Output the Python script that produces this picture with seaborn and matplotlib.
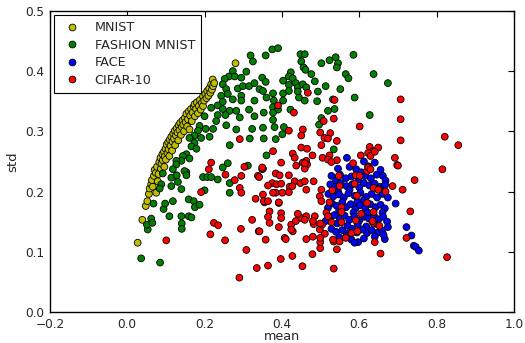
import numpy as np
import pandas as pd
import seaborn as sns
import matplotlib
matplotlib.use("Agg")
import matplotlib.pyplot as plt

# (mean, std) pairs
mnist = [
    (0.027, 0.115), (0.039, 0.153), (0.048, 0.176), (0.052, 0.184), (0.056, 0.196), (0.058, 0.205),
    (0.062, 0.212), (0.066, 0.208), (0.064, 0.219), (0.069, 0.226), (0.071, 0.236), (0.075, 0.198),
    (0.074, 0.231), (0.077, 0.241), (0.079, 0.217), (0.081, 0.229), (0.083, 0.249), (0.086, 0.256),
    (0.087, 0.238), (0.089, 0.246), (0.091, 0.262), (0.092, 0.252), (0.095, 0.266), (0.096, 0.241),
    (0.097, 0.258), (0.099, 0.271), (0.100, 0.253), (0.102, 0.278), (0.104, 0.264), (0.106, 0.282),
    (0.107, 0.270), (0.109, 0.259), (0.110, 0.286), (0.112, 0.276), (0.114, 0.291), (0.116, 0.268),
    (0.117, 0.283), (0.119, 0.296), (0.121, 0.288), (0.123, 0.301), (0.124, 0.277), (0.126, 0.293),
    (0.128, 0.305), (0.130, 0.298), (0.132, 0.285), (0.133, 0.310), (0.135, 0.302), (0.137, 0.314),
    (0.139, 0.294), (0.141, 0.307), (0.143, 0.318), (0.145, 0.311), (0.147, 0.300), (0.149, 0.322),
    (0.151, 0.315), (0.153, 0.329), (0.155, 0.308), (0.157, 0.320), (0.159, 0.333), (0.161, 0.303),
    (0.163, 0.326), (0.165, 0.337), (0.167, 0.317), (0.169, 0.331), (0.172, 0.341), (0.174, 0.345),
    (0.175, 0.325), (0.178, 0.337), (0.180, 0.348), (0.183, 0.330), (0.185, 0.342), (0.188, 0.352),
    (0.190, 0.336), (0.193, 0.347), (0.196, 0.358), (0.196, 0.342), (0.199, 0.351), (0.202, 0.362),
    (0.205, 0.355), (0.207, 0.367), (0.210, 0.359), (0.212, 0.371), (0.215, 0.364), (0.217, 0.378),
    (0.219, 0.369), (0.221, 0.386), (0.222, 0.375), (0.225, 0.380), (0.280, 0.413),
]

fashion = [
    (0.036, 0.089), (0.085, 0.082), (0.053, 0.137), (0.062, 0.155), (0.051, 0.145), (0.065, 0.148),
    (0.068, 0.180), (0.094, 0.171), (0.098, 0.180), (0.109, 0.159), (0.118, 0.184), (0.140, 0.159),
    (0.141, 0.147), (0.141, 0.138), (0.159, 0.159), (0.166, 0.157), (0.159, 0.187), (0.172, 0.184),
    (0.175, 0.174), (0.187, 0.178), (0.092, 0.230), (0.114, 0.223), (0.128, 0.227), (0.131, 0.216),
    (0.114, 0.209), (0.140, 0.204), (0.153, 0.232), (0.196, 0.224), (0.207, 0.224), (0.217, 0.224),
    (0.234, 0.220), (0.088, 0.212), (0.084, 0.205),
    (0.319, 0.426), (0.325, 0.416), (0.273, 0.400), (0.308, 0.399), (0.263, 0.391), (0.278, 0.391),
    (0.295, 0.389), (0.252, 0.387), (0.247, 0.378), (0.256, 0.370), (0.286, 0.371), (0.299, 0.375),
    (0.315, 0.375), (0.329, 0.380), (0.260, 0.362), (0.243, 0.359), (0.273, 0.353), (0.295, 0.359),
    (0.295, 0.351), (0.329, 0.351), (0.247, 0.349), (0.234, 0.343), (0.217, 0.339), (0.247, 0.337),
    (0.265, 0.334), (0.282, 0.334), (0.315, 0.336), (0.234, 0.327), (0.254, 0.327), (0.291, 0.323),
    (0.329, 0.325), (0.230, 0.317), (0.200, 0.325), (0.187, 0.309), (0.203, 0.304), (0.222, 0.304),
    (0.256, 0.310), (0.282, 0.303), (0.323, 0.304), (0.183, 0.301), (0.174, 0.293), (0.191, 0.289),
    (0.213, 0.291), (0.161, 0.289), (0.174, 0.281), (0.166, 0.275), (0.179, 0.271), (0.265, 0.277),
    (0.317, 0.288), (0.153, 0.262), (0.161, 0.255), (0.144, 0.259), (0.140, 0.251), (0.127, 0.251),
    (0.127, 0.245), (0.260, 0.247), (0.247, 0.240), (0.148, 0.234), (0.153, 0.227), (0.118, 0.237),
    (0.360, 0.260), (0.265, 0.214), (0.265, 0.198), (0.200, 0.202), (0.312, 0.243),
    (0.358, 0.426), (0.375, 0.436), (0.390, 0.438), (0.423, 0.398), (0.418, 0.391), (0.349, 0.389),
    (0.358, 0.382), (0.403, 0.384), (0.428, 0.388), (0.436, 0.380), (0.418, 0.377), (0.441, 0.373),
    (0.342, 0.370), (0.351, 0.367), (0.377, 0.363), (0.403, 0.363), (0.418, 0.367), (0.441, 0.366),
    (0.444, 0.356), (0.360, 0.356), (0.379, 0.351), (0.403, 0.351), (0.377, 0.340), (0.390, 0.336),
    (0.422, 0.336), (0.353, 0.331), (0.377, 0.331), (0.377, 0.319), (0.351, 0.306), (0.381, 0.307),
    (0.405, 0.307), (0.401, 0.295), (0.353, 0.288), (0.384, 0.287),
    (0.448, 0.428), (0.459, 0.428), (0.450, 0.416), (0.456, 0.406), (0.461, 0.402), (0.476, 0.395),
    (0.502, 0.413), (0.523, 0.418), (0.539, 0.423), (0.545, 0.413), (0.542, 0.406), (0.585, 0.427),
    (0.565, 0.395), (0.572, 0.388), (0.637, 0.395), (0.674, 0.380), (0.485, 0.383), (0.454, 0.378),
    (0.463, 0.373), (0.513, 0.375), (0.551, 0.370), (0.493, 0.366), (0.588, 0.356), (0.459, 0.351),
    (0.491, 0.350), (0.532, 0.353), (0.536, 0.337), (0.519, 0.334), (0.627, 0.327), (0.502, 0.322),
    (0.496, 0.311), (0.534, 0.270),
]

face = [
    (0.568, 0.256), (0.612, 0.250), (0.640, 0.248), (0.623, 0.242), (0.592, 0.237), (0.605, 0.232),
    (0.545, 0.238), (0.575, 0.241), (0.655, 0.236), (0.528, 0.226), (0.661, 0.226), (0.550, 0.228),
    (0.565, 0.222), (0.580, 0.225), (0.598, 0.220), (0.615, 0.226), (0.630, 0.222), (0.645, 0.228),
    (0.668, 0.218), (0.540, 0.218), (0.525, 0.212), (0.538, 0.208), (0.552, 0.214), (0.567, 0.209),
    (0.582, 0.212), (0.600, 0.207), (0.612, 0.214), (0.626, 0.210), (0.640, 0.213), (0.655, 0.208),
    (0.667, 0.211), (0.575, 0.203), (0.545, 0.200), (0.520, 0.196), (0.533, 0.192), (0.548, 0.195),
    (0.560, 0.190), (0.572, 0.197), (0.588, 0.193), (0.603, 0.198), (0.618, 0.191), (0.632, 0.196),
    (0.646, 0.190), (0.660, 0.196), (0.674, 0.190), (0.694, 0.180), (0.612, 0.186), (0.595, 0.183),
    (0.519, 0.173), (0.530, 0.180), (0.542, 0.176), (0.556, 0.182), (0.566, 0.174), (0.578, 0.179),
    (0.590, 0.172), (0.602, 0.177), (0.615, 0.173), (0.628, 0.179), (0.642, 0.174), (0.655, 0.178),
    (0.666, 0.172), (0.548, 0.168), (0.585, 0.165), (0.622, 0.165), (0.660, 0.165), (0.513, 0.151),
    (0.524, 0.158), (0.536, 0.161), (0.550, 0.155), (0.562, 0.160), (0.574, 0.153), (0.587, 0.158),
    (0.600, 0.152), (0.612, 0.158), (0.625, 0.155), (0.638, 0.160), (0.650, 0.154), (0.662, 0.158),
    (0.672, 0.150), (0.543, 0.147), (0.570, 0.143), (0.596, 0.146), (0.618, 0.142), (0.645, 0.146),
    (0.528, 0.138), (0.540, 0.133), (0.556, 0.136), (0.568, 0.130), (0.582, 0.138), (0.594, 0.132),
    (0.607, 0.137), (0.620, 0.131), (0.632, 0.136), (0.648, 0.132), (0.674, 0.141), (0.722, 0.141),
    (0.660, 0.135), (0.548, 0.124), (0.566, 0.126), (0.580, 0.120), (0.597, 0.116), (0.612, 0.122),
    (0.640, 0.125), (0.666, 0.121), (0.663, 0.128), (0.735, 0.127), (0.741, 0.110), (0.746, 0.108),
    (0.754, 0.102), (0.588, 0.115),
]

cifar = [
    (0.101, 0.119), (0.215, 0.129), (0.224, 0.148), (0.235, 0.144), (0.253, 0.119), (0.290, 0.057),
    (0.294, 0.138), (0.308, 0.103), (0.323, 0.153), (0.335, 0.073), (0.340, 0.134), (0.191, 0.199),
    (0.211, 0.237), (0.217, 0.248), (0.254, 0.228), (0.303, 0.241), (0.349, 0.237),
    (0.390, 0.343), (0.431, 0.331), (0.418, 0.301), (0.454, 0.303), (0.291, 0.287), (0.377, 0.267),
    (0.428, 0.263), (0.450, 0.273), (0.433, 0.256), (0.437, 0.243), (0.463, 0.251), (0.398, 0.248),
    (0.351, 0.238), (0.384, 0.230), (0.418, 0.227), (0.295, 0.226), (0.338, 0.226), (0.467, 0.364),
    (0.536, 0.352), (0.707, 0.353), (0.707, 0.320), (0.707, 0.285), (0.601, 0.308), (0.534, 0.321),
    (0.508, 0.317), (0.499, 0.298), (0.510, 0.289), (0.525, 0.297), (0.519, 0.288), (0.542, 0.284),
    (0.502, 0.277), (0.465, 0.271), (0.479, 0.260), (0.505, 0.256), (0.523, 0.260), (0.519, 0.253),
    (0.542, 0.252), (0.584, 0.247), (0.604, 0.260), (0.627, 0.274), (0.636, 0.267), (0.649, 0.273),
    (0.623, 0.264), (0.629, 0.259), (0.692, 0.256), (0.698, 0.244), (0.454, 0.248), (0.465, 0.245),
    (0.821, 0.291), (0.856, 0.277), (0.815, 0.237), (0.743, 0.219), (0.686, 0.209), (0.712, 0.203),
    (0.668, 0.200), (0.827, 0.091), (0.732, 0.167), (0.722, 0.123), (0.655, 0.097), (0.640, 0.116),
    (0.652, 0.143), (0.534, 0.072), (0.542, 0.104), (0.534, 0.117), (0.549, 0.117), (0.453, 0.076),
    (0.427, 0.093), (0.479, 0.096), (0.397, 0.088), (0.364, 0.077), (0.499, 0.106), (0.499, 0.116),
    (0.511, 0.130), (0.463, 0.121), (0.407, 0.123), (0.358, 0.120), (0.428, 0.134), (0.392, 0.141),
    (0.368, 0.148), (0.424, 0.145), (0.436, 0.151), (0.450, 0.156), (0.463, 0.159), (0.485, 0.159),
    (0.482, 0.146), (0.498, 0.137), (0.504, 0.145), (0.528, 0.149), (0.398, 0.164), (0.398, 0.156),
    (0.368, 0.167), (0.364, 0.158), (0.355, 0.182), (0.392, 0.181), (0.441, 0.163), (0.515, 0.165),
    (0.519, 0.159), (0.554, 0.174), (0.554, 0.166), (0.580, 0.131), (0.595, 0.134), (0.620, 0.181),
    (0.636, 0.148), (0.605, 0.163), (0.565, 0.123), (0.523, 0.182), (0.342, 0.134),
    (0.700, 0.243), (0.651, 0.204), (0.637, 0.206), (0.620, 0.234), (0.591, 0.227), (0.588, 0.213),
    (0.547, 0.226), (0.530, 0.202), (0.594, 0.193), (0.637, 0.166), (0.634, 0.151), (0.591, 0.152),
    (0.554, 0.149), (0.532, 0.120), (0.528, 0.249), (0.623, 0.240),
    (0.459, 0.238), (0.341, 0.224), (0.278, 0.219), (0.291, 0.206), (0.295, 0.198), (0.332, 0.188),
    (0.351, 0.195), (0.375, 0.214), (0.386, 0.212), (0.398, 0.213), (0.384, 0.198), (0.392, 0.182),
    (0.420, 0.208), (0.418, 0.199), (0.433, 0.217), (0.448, 0.214), (0.482, 0.217), (0.463, 0.203),
    (0.498, 0.192), (0.502, 0.184), (0.502, 0.203), (0.353, 0.184), (0.364, 0.184), (0.424, 0.137),
    (0.459, 0.153), (0.480, 0.151), (0.499, 0.147), (0.499, 0.123), (0.480, 0.125), (0.410, 0.121),
    (0.450, 0.293), (0.640, 0.266), (0.459, 0.247), (0.394, 0.227), (0.364, 0.210), (0.427, 0.209),
    (0.459, 0.217), (0.377, 0.198), (0.401, 0.198), (0.349, 0.240), (0.629, 0.237), (0.649, 0.203),
    (0.549, 0.209), (0.601, 0.226),
]

labels = ["MNIST", "FASHION MNIST", "FACE", "CIFAR-10"]
colors = ["#bfbf00", "#008000", "#0000ff", "#ff0000"]

frames = []
for name, pts in zip(labels, [mnist, fashion, face, cifar]):
    arr = np.array(pts)
    frames.append(pd.DataFrame({"mean": arr[:, 0], "std": arr[:, 1], "dataset": name}))
df = pd.concat(frames, ignore_index=True)

sns.set_style("white")
plt.rcParams["font.family"] = ["DejaVu Sans"]
plt.rcParams["font.size"] = 9

fig = plt.figure(figsize=(5.25, 3.43), dpi=100)
ax = fig.add_axes([0.095, 0.0904, 0.884, 0.878])

sns.scatterplot(data=df, x="mean", y="std", hue="dataset", hue_order=labels,
                palette=colors, s=24, edgecolor="black", linewidth=0.6, ax=ax)

ax.set_xlim(-0.2, 1.0)
ax.set_ylim(0.0, 0.5)
ax.set_xticks(np.arange(-0.2, 1.01, 0.2))
ax.set_yticks(np.arange(0.0, 0.51, 0.1))
ax.set_xlabel("mean", fontsize=9.2, labelpad=-0.6)
ax.set_ylabel("std", fontsize=9.5, labelpad=4)
ax.tick_params(direction="in", length=4, width=0.8, top=True, right=True,
               labelsize=8.7, color="black")
ax.tick_params(axis="x", pad=4.3)
ax.tick_params(axis="y", pad=4)
for sp in ax.spines.values():
    sp.set_color("black")
    sp.set_linewidth(1.0)

handles, _ = ax.get_legend_handles_labels()
leg = ax.legend(handles, labels, loc="upper left", fontsize=9.2, frameon=True,
                fancybox=False, edgecolor="black", framealpha=1,
                borderaxespad=0.3, labelspacing=0.36, handlelength=1.8,
                handletextpad=0.9, borderpad=0.5)
leg.get_frame().set_linewidth(0.8)

fig.savefig("out.png", dpi=100)
